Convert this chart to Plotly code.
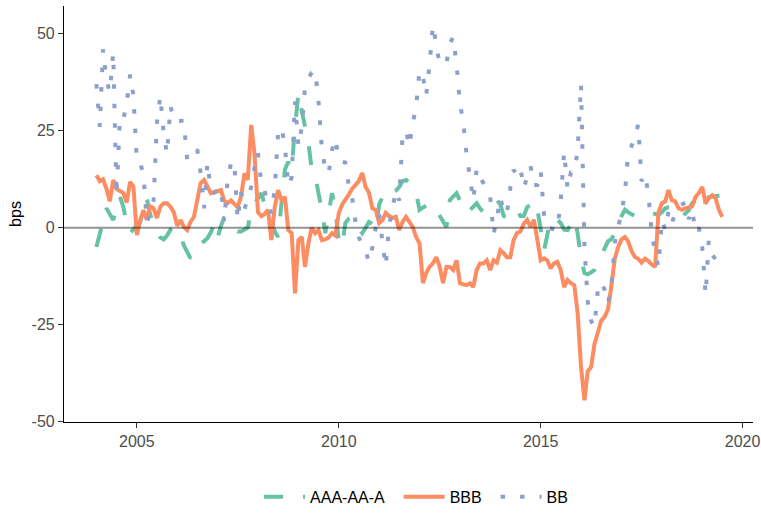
import plotly.graph_objects as go
import pandas as pd

# ---------------- data (monthly, Jan 2004 - Jul 2019) ----------------
months = pd.date_range("2004-01-01", periods=187, freq="MS")

aaa_aa_a = [
    -5, -1.5, 1.5, 5, 3.5, 2, 5, 8, 5.3, 1, -1.4, -0.5,            # 2004
    0.2, 1.5, 5, 7.5, 3.5, 1, -0.5, -2.5, -3, -2, -0.5, 0.2,       # 2005
    -0.5, -2, -4.5, -6.5, -7.9, -6.5, -4.5, -4, -3.5, -2.7, -1.2, 1,  # 2006
    -2.5, 0.5, 2.5, 2.5, 0.5, -0.5, -1, -1, -0.5, 0, 4.5, 6.3,     # 2007
    7.5, 8.9, 6, 3.8, 1.5, -1, -2.4, 6, 15, 17, 15, 26,            # 2008
    34.7, 30, 26, 22, 15, 13.5, 9, 4.5, -1.4, 3.5, 8.9, 5,         # 2009
    -3.5, -4.8, 1.2, 2.3, 2.8, 1, 0, -1.4, 0, 1.5, 1, -0.5,        # 2010
    6, 8, 9.7, 9.3, 8.9, 9.5, 10.5, 12, 12.3, 11.5, 10.5, 9.2,     # 2011
    4.6, 5.2, 5.8, 6.3, 6, 4.5, 3.3, 2, 0.2, 7.1, 8, 8.9,          # 2012
    7, 5, 3.8, 4.5, 5.5, 6.3, 5, 4, 4.6, 5.5, 6.3, 7.1,            # 2013
    6, 3, 2.8, 3.8, 4.6, 5, 3, 3, 5.3, 6, 7, 5,                    # 2014
    -1, -5.8, -2, 2.5, 2.3, 2, 1.2, -0.5, -0.6, 1, 2.5, -1.4,      # 2015
    -8, -11.7, -12, -11.5, -10.9, -9, -7, -5, -3.5, -3, -1.5, 0.2, # 2016
    3, 4.6, 4, 3.5, 3, 2.8, 3, 3.5, 3.8, 3.8, 3.5, 3.3,            # 2017
    4, 5, 5.3, 5.3, 4, 3.8, 2.8, 3.5, 4.5, 6.3, 7, 7.1,            # 2018
    4.6, 6.5, 7.9, 8, 8.2, 8.4, 8.4,                               # 2019
]

bbb = [
    13.5, 12, 12.5, 10, 6.8, 12.3, 10, 9.5, 8.9, 6.5, 11.8, 10.5,
    -1.9, 2, 4.5, 2, 5.5, 5, 2.5, 5.4, 6.3, 6.3, 5.4, 4,
    0.5, 2, 0.2, -0.6, 1.5, 2.8, 7, 11.5, 12.3, 10.5, 8.9, 9.2,
    9.5, 9.7, 7, 6.3, 7, 6, 5.3, 8, 14, 12.3, 26.5, 19,
    4, 3, 3.5, 4.6, -3.2, 5.3, 9.7, 7.1, 7.9, -0.6, -1.4, -16.9,
    -3.2, -2.4, -10.1, -4.1, 0, -1.4, -0.6, -3.2, -3, -2.5, -1.4, -2,
    3.8, 6, 7, 8.5, 10, 11, 12, 14.1, 10.5, 9, 5, 4.6,
    1.2, 2, 3.8, 3, 2.5, 2.8, -0.6, 1.5, 2.8, 1.5, 0.2, -2.4,
    -4, -14.3, -11.7, -10.1, -9.2, -7.6, -10, -14.3, -10.1, -10.1, -10.9, -8.4,
    -14.3, -14.6, -14.8, -14.3, -15.3, -10.9, -9.2, -9.2, -8.4, -10.9, -8.4, -9,
    -5.8, -6.6, -7.6, -7.6, -3.2, -1.4, -1, 1, 2, 0.2, 2, -3,
    -8.4, -7.9, -8.4, -10.5, -9.2, -8.8, -10.9, -15.3, -13.5, -14.3, -14.8, -22,
    -36, -44.5, -37, -35.9, -30, -27, -24, -23, -21, -15, -8, -5,
    -3, -2.4, -3.5, -6, -7.5, -8, -9, -8, -8.6, -9.5, -10.1, 4,
    6.3, 6.8, 9.7, 7.1, 6.8, 5, 4.6, 5, 5.3, 5.5, 7.9, 8.9,
    10.5, 6.3, 7.6, 8.4, 7.6, 4.6, 2.8,
]

bb = [
    37, 26, 46, 38, 35, 45, 8.4, 28.5, 28, 32, 39.5, 34,
    17, 16.5, 14, 1.5, 3.5, 7, 27, 34, 24, 19, 31.4, 27.5,
    27.5, 27.5, 27.6, 17.5, 18.5, 19.5, 20.2, 14, 5, 16.8, 9.5, 9,
    9.5, 10.3, 1.5, 12, 16.5, 17.2, 2, 9.3, 4.6, 8, 10.5, 15.5,
    19.4, 11, 9.5, 6, 3.7, 10, 24.3, 25.9, 20.9, 10.8, 13, 32.5,
    21, 26, 36, 38.5, 40, 40.5, 33, 20.5, 15, 13.9, 20, 23,
    17.5, 17, 16.8, 11, 8, 1.5, -2.4, -4.5, -6, -8.8, -5, 0,
    3.7, -4, -10, 0.5, 4.6, 9.5, 7, 24, 25, 21, 27, 31,
    40.5, 39, 34, 42, 52.2, 47, 42.2, 42.3, 42.4, 47.5, 49.1, 42,
    32, 27, 19, 13, 7.1, 15.3, 13, 11.5, 10, 8, -1.7, 2.5,
    7.8, 4, 3.5, 10.2, 14.9, 13.8, 15.5, 10.2, 13, 15.9, 11, 11,
    14.7, 3, 0, -0.2, -0.4, -0.6, 7, 19.6, 10, 14.2, 14.3, 20,
    37, -5, -19, -24, -25.5, -16, -14, -16, -19.5, -15, -4, -0.5,
    4, 8.9, 19, 21, 24, 26.5, 12, 13.8, 8.7, -1.3, -6.4, -10.1,
    2, -0.6, 4.1, 1, 4, 5.5, 6, 6.4, 2.2, 4.7, -1, 0,
    -5, -17.2, -3.4, -7, -8.1, -8, -8,
]

series_names = ["AAA-AA-A", "BBB", "BB"]
series_values = [aaa_aa_a, bbb, bb]

y_tickvals = [-50, -25, 0, 25, 50]
y_ticktext = ["-50", "-25", "0", "25", "50"]
x_tickyears = [2005, 2010, 2015, 2020]

# ---------------- styles ----------------
colors = ["#66C2A5", "#FC8D62", "#8DA0CB"]
dashes = ["19px,20px", "solid", "4.5px,15px"]
legend_pad = ["\u00a0\u00a0", "\u00a0\u00a0", ""]
FONT = "Liberation Sans, Arial, Helvetica, sans-serif"

fig = go.Figure()
for name, vals, col, dsh, pad in zip(series_names, series_values, colors, dashes, legend_pad):
    fig.add_trace(go.Scatter(
        x=months[:len(vals)], y=vals, mode="lines", name=name + pad,
        line=dict(color=col, width=4, dash=dsh),
        hoverinfo="skip",
    ))

fig.add_shape(type="line", xref="paper", yref="y", x0=0, x1=1, y0=0, y1=0,
              line=dict(color="rgba(0,0,0,0.42)", width=2), layer="above")

fig.update_layout(
    width=761, height=517,
    margin=dict(l=64, r=8, t=6, b=95, autoexpand=False),
    paper_bgcolor="white", plot_bgcolor="white",
    font=dict(family=FONT, size=16, color="black"),
    showlegend=True,
    legend=dict(orientation="h", x=0.511, xanchor="center", y=-0.18, yanchor="middle",
                font=dict(family=FONT, size=16, color="black"),
                itemwidth=41, traceorder="normal"),
    xaxis=dict(
        type="date",
        range=["2003-03-14", "2020-04-04"],
        tickvals=[f"{y}-01-01" for y in x_tickyears],
        ticktext=[str(y) for y in x_tickyears],
        showgrid=False, zeroline=False, automargin=False,
        showline=True, linecolor="black", linewidth=1.2,
        ticks="outside", ticklen=5, tickwidth=1.2, tickcolor="#333333",
        tickfont=dict(family=FONT, size=16, color="#4D4D4D"),
    ),
    yaxis=dict(
        range=[-50.08, 57.14],
        tickvals=y_tickvals, ticktext=y_ticktext,
        showgrid=False, zeroline=False, automargin=False,
        showline=True, linecolor="black", linewidth=1.2,
        ticks="outside", ticklen=5, tickwidth=1.2, tickcolor="#333333",
        tickfont=dict(family=FONT, size=16, color="#4D4D4D"),
        title=dict(text="bps", font=dict(family=FONT, size=16, color="black"), standoff=5),
    ),
)

fig.write_html("out.html",
               config={"displayModeBar": False},
               post_script="document.body.style.margin='0';document.body.style.padding='0';")
